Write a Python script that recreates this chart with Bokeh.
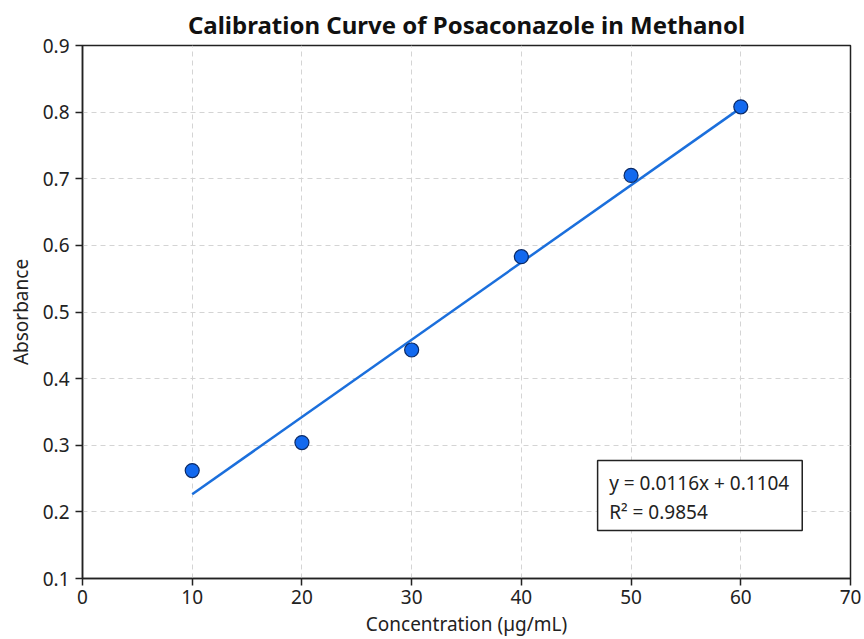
from bokeh.plotting import figure
from bokeh.models import Range1d, FixedTicker, BoxAnnotation, Label
from bokeh.embed import file_html
from bokeh.resources import INLINE

# Calibration standards
concentration = [10, 20, 30, 40, 50, 60]
absorbance = [0.262, 0.304, 0.443, 0.583, 0.705, 0.808]

# Linear regression result
slope = 0.0116
intercept = 0.1104
r_squared = 0.9854

x_ticks = [0, 10, 20, 30, 40, 50, 60, 70]
y_ticks = [0.1, 0.2, 0.3, 0.4, 0.5, 0.6, 0.7, 0.8, 0.9]

FONT = "Noto Sans"

p = figure(width=864, height=639, output_backend="svg", toolbar_location=None,
           x_range=Range1d(0, 70), y_range=Range1d(0.1, 0.9),
           min_border_left=82, min_border_right=14, min_border_top=45, min_border_bottom=61,
           title="Calibration Curve of Posaconazole in Methanol")

p.title.align = "center"
p.title.text_font = FONT
p.title.text_font_size = "24px"
p.title.text_font_style = "bold"
p.title.text_color = "#111111"
p.title.offset = 0

p.background_fill_color = "white"
p.border_fill_color = "white"
p.outline_line_color = "#222222"
p.outline_line_width = 1.5

for ax, ticks in ((p.xaxis, x_ticks), (p.yaxis, y_ticks)):
    ax.ticker = FixedTicker(ticks=ticks)
    ax.minor_tick_line_color = None
    ax.major_tick_in = 0
    ax.major_tick_out = 7
    ax.major_tick_line_width = 1.5
    ax.major_tick_line_color = "#222222"
    ax.axis_line_color = "#222222"
    ax.axis_line_width = 1.5
    ax.major_label_text_font = FONT
    ax.major_label_text_font_size = "19px"
    ax.major_label_text_color = "#222222"
    ax.axis_label_text_font = FONT
    ax.axis_label_text_font_size = "19px"
    ax.axis_label_text_font_style = "normal"
    ax.axis_label_text_color = "#222222"

p.xaxis.axis_label = "Concentration (µg/mL)"
p.yaxis.axis_label = "Absorbance"
p.xaxis.axis_label_standoff = 4
p.xaxis.major_label_standoff = 4
p.yaxis.major_label_standoff = 6
p.yaxis.axis_label_standoff = 6

p.grid.grid_line_color = "#d4d4d4"
p.grid.grid_line_dash = "5 4"
p.grid.grid_line_width = 1

# Fitted line across the measured range
x_fit = [min(concentration), max(concentration)]
y_fit = [slope * x + intercept for x in x_fit]
p.line(x_fit, y_fit, line_color="#1b6fdc", line_width=2.5)

p.scatter(concentration, absorbance, size=14, fill_color="#1269ef",
          line_color="#0b2a66", line_width=1.2)

# Equation box
box = BoxAnnotation(left=46.95, right=65.6, top=0.277, bottom=0.172,
                    fill_color="white", fill_alpha=1.0,
                    line_color="#222222", line_alpha=1.0, line_width=1.5)
p.add_layout(box)

eq_text = f"y = {slope:.4f}x + {intercept:.4f}"
r2_text = f"R\u00b2 = {r_squared:.4f}"
for txt, yv in ((eq_text, 0.244), (r2_text, 0.200)):
    p.add_layout(Label(x=48.0, y=yv, text=txt, text_font=FONT,
                       text_font_size="19px", text_color="#222222",
                       text_baseline="middle", text_align="left"))

open("out.html", "w").write(file_html(p, INLINE))
